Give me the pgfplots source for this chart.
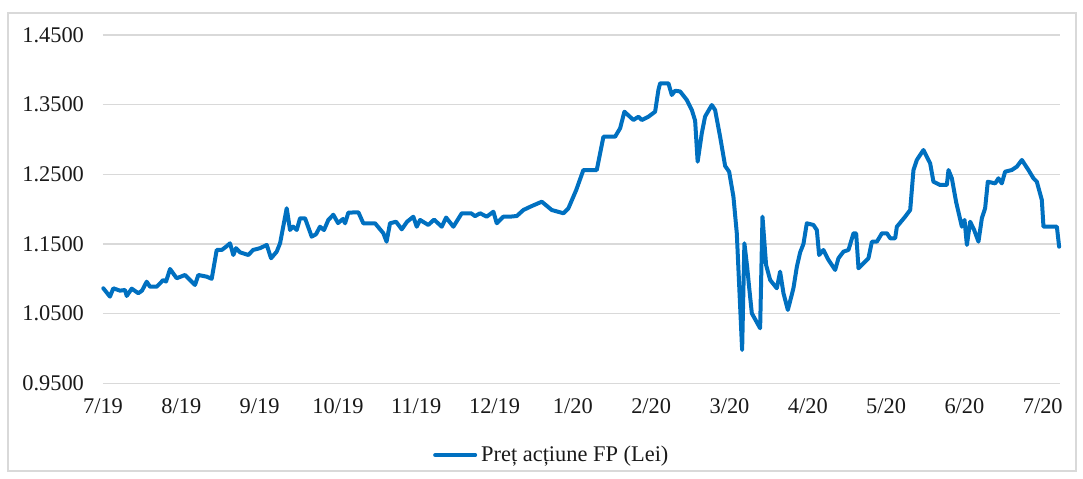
\documentclass[border=0pt]{standalone}
\usepackage{fontspec}
\setmainfont{Liberation Serif}
\usepackage{pgfplots}
\pgfplotsset{compat=1.18}
\definecolor{xlblue}{RGB}{0,112,192}
\definecolor{gridgray}{RGB}{217,217,217}
\begin{document}
\begin{tikzpicture}
% image px -> ((px-103)*0.5pt, (383.3-py)*0.5pt)
\path[use as bounding box] (-51.5pt,-47.35pt) rectangle (490pt,191.65pt);
\draw[gridgray, line width=0.6pt] (-47.5pt,-43.85pt) rectangle (486.5pt,185.15pt);
\begin{axis}[
  at={(0pt,0pt)}, anchor=south west,
  scale only axis, width=478.5pt, height=174.15pt,
  xmin=0, xmax=12.22, ymin=0.95, ymax=1.45,
  axis line style={draw=none},
  major tick length=0pt,
  xtick={0,1,2,3,4,5,6,7,8,9,10,11,12},
  xticklabels={7/19,8/19,9/19,10/19,11/19,12/19,1/20,2/20,3/20,4/20,5/20,6/20,7/20},
  ytick={0.95,1.05,1.15,1.25,1.35,1.45},
  yticklabels={0.9500,1.0500,1.1500,1.2500,1.3500,1.4500},
  ymajorgrids, grid style={gridgray, line width=0.75pt},
  tick label style={font=\fontsize{11.2}{13}\selectfont, text=black!90},
  xticklabel style={yshift=-4pt},
  yticklabel style={xshift=-6pt},
  /pgf/number format/assume math mode=true,
  legend style={at={(0.470,-0.206)}, anchor=center, draw=none, fill=none,
    font=\fontsize{11.2}{13}\selectfont, text=black!90, inner sep=0pt},
  legend image code/.code={\draw[#1] (0pt,0pt) -- (20pt,0pt);},
  legend cell align=left,
  clip=false,
]
\addplot[xlblue, line width=2pt, line join=round, line cap=round] coordinates {
(0.004,1.0864) (0.089,1.0744) (0.132,1.0864) (0.217,1.0830) (0.281,1.0840)
(0.303,1.0754) (0.367,1.0859) (0.451,1.0793) (0.498,1.0830) (0.558,1.0959)
(0.600,1.0887) (0.686,1.0887) (0.770,1.0983) (0.805,1.0960) (0.856,1.1141)
(0.941,1.1008) (1.047,1.1055) (1.175,1.0912) (1.217,1.1055) (1.324,1.1031)
(1.388,1.1000) (1.452,1.1414) (1.516,1.1414) (1.571,1.1460) (1.622,1.1510)
(1.664,1.1342) (1.699,1.1440) (1.750,1.1380) (1.856,1.1342) (1.916,1.1414)
(2.005,1.1440) (2.091,1.1486) (2.146,1.1295) (2.218,1.1390) (2.261,1.1510)
(2.346,1.2013) (2.388,1.1701) (2.427,1.1750) (2.474,1.1701) (2.516,1.1869)
(2.580,1.1869) (2.665,1.1605) (2.720,1.1640) (2.771,1.1748) (2.822,1.1700)
(2.877,1.1845) (2.941,1.1920) (3.001,1.1800) (3.065,1.1860) (3.091,1.1797)
(3.133,1.1950) (3.261,1.1955) (3.324,1.1797) (3.388,1.1797) (3.474,1.1797)
(3.580,1.1654) (3.621,1.1533) (3.665,1.1797) (3.742,1.1820) (3.815,1.1711)
(3.883,1.1820) (3.963,1.1892) (4.006,1.1748) (4.049,1.1845) (4.154,1.1773)
(4.227,1.1850) (4.326,1.1748) (4.381,1.1880) (4.474,1.1748) (4.581,1.1941)
(4.700,1.1941) (4.751,1.1900) (4.815,1.1941) (4.900,1.1892) (4.985,1.1964)
(5.028,1.1797) (5.112,1.1892) (5.198,1.1892) (5.284,1.1902) (5.368,1.1988)
(5.466,1.2040) (5.603,1.2107) (5.730,1.1988) (5.879,1.1941) (5.943,1.2013)
(6.041,1.2270) (6.134,1.2562) (6.305,1.2562) (6.390,1.3040) (6.539,1.3040)
(6.603,1.3161) (6.658,1.3399) (6.773,1.3280) (6.837,1.3327) (6.880,1.3280)
(6.964,1.3327) (7.050,1.3399) (7.092,1.3711) (7.114,1.3807) (7.220,1.3807)
(7.263,1.3639) (7.305,1.3700) (7.369,1.3690) (7.455,1.3567) (7.519,1.3423)
(7.561,1.3270) (7.593,1.2681) (7.646,1.3089) (7.688,1.3330) (7.774,1.3495)
(7.816,1.3423) (7.880,1.3040) (7.944,1.2620) (7.995,1.2538) (8.050,1.2179)
(8.093,1.1654) (8.161,0.9979) (8.190,1.1510) (8.225,1.1174) (8.250,1.0887)
(8.285,1.0505) (8.391,1.0290) (8.421,1.1892) (8.467,1.1199) (8.519,1.0983)
(8.604,1.0864) (8.646,1.1103) (8.689,1.0793) (8.745,1.0553) (8.816,1.0864)
(8.860,1.1174) (8.902,1.1380) (8.944,1.1500) (8.987,1.1797) (9.072,1.1773)
(9.115,1.1700) (9.144,1.1342) (9.199,1.1414) (9.259,1.1280) (9.349,1.1127)
(9.391,1.1295) (9.455,1.1390) (9.519,1.1414) (9.583,1.1654) (9.617,1.1654)
(9.647,1.1151) (9.774,1.1295) (9.818,1.1533) (9.882,1.1533) (9.946,1.1654)
(10.010,1.1654) (10.052,1.1582) (10.115,1.1582) (10.137,1.1748) (10.243,1.1892)
(10.307,1.1988) (10.349,1.2562) (10.392,1.2706) (10.476,1.2849) (10.562,1.2658)
(10.604,1.2394) (10.690,1.2347) (10.775,1.2347) (10.796,1.2562) (10.839,1.2443)
(10.894,1.2100) (10.967,1.1748) (11.001,1.1845) (11.031,1.1486) (11.073,1.1820)
(11.124,1.1700) (11.179,1.1533) (11.222,1.1869) (11.264,1.2013) (11.298,1.2394)
(11.392,1.2370) (11.434,1.2443) (11.477,1.2370) (11.519,1.2538) (11.605,1.2562)
(11.669,1.2610) (11.733,1.2706) (11.817,1.2562) (11.881,1.2443) (11.924,1.2394)
(11.988,1.2132) (12.009,1.1748) (12.180,1.1748) (12.209,1.1461)
};
\addlegendentry{Preț acțiune FP (Lei)}
\end{axis}
\end{tikzpicture}
\end{document}
